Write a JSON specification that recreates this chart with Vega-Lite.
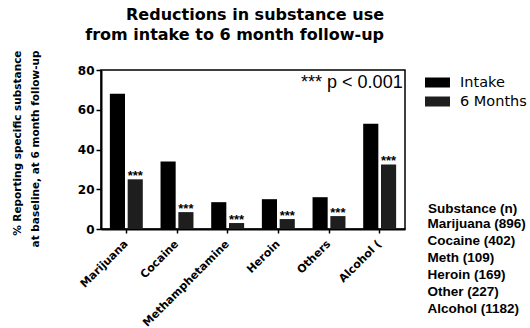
{
  "$schema": "https://vega.github.io/schema/vega-lite/v6.json",
  "autosize": {"type": "none"},
  "padding": {"left": 101, "top": 70, "right": 125, "bottom": 99},
  "width": 304,
  "height": 159,
  "background": "white",
  "title": {
    "text": ["Reductions in substance use", "from intake to 6 month follow-up"],
    "anchor": "end",
    "frame": "group",
    "align": "right",
    "dx": -21,
    "font": "DejaVu Sans",
    "fontSize": 16,
    "fontWeight": "bold",
    "lineHeight": 20,
    "offset": 7,
    "color": "black"
  },
  "datasets": {
    "bars": [
      {"substance": "Marijuana", "time": "Intake", "pct": 68},
      {"substance": "Marijuana", "time": "6 Months", "pct": 25},
      {"substance": "Cocaine", "time": "Intake", "pct": 34},
      {"substance": "Cocaine", "time": "6 Months", "pct": 8.5},
      {"substance": "Methamphetamine", "time": "Intake", "pct": 13.5},
      {"substance": "Methamphetamine", "time": "6 Months", "pct": 3},
      {"substance": "Heroin", "time": "Intake", "pct": 15},
      {"substance": "Heroin", "time": "6 Months", "pct": 5},
      {"substance": "Others", "time": "Intake", "pct": 16},
      {"substance": "Others", "time": "6 Months", "pct": 6.5},
      {"substance": "Alcohol (", "time": "Intake", "pct": 53},
      {"substance": "Alcohol (", "time": "6 Months", "pct": 32.5}
    ],
    "substances": [
      {"label": "Marijuana (896)"},
      {"label": "Cocaine (402)"},
      {"label": "Meth (109)"},
      {"label": "Heroin (169)"},
      {"label": "Other (227)"},
      {"label": "Alcohol (1182)"}
    ]
  },
  "layer": [
    {
      "data": {"name": "bars"},
      "mark": {"type": "bar"},
      "encoding": {
        "x": {
          "field": "substance",
          "type": "nominal",
          "sort": null,
          "title": null,
          "scale": {"paddingInner": 0.35, "paddingOuter": 0.175},
          "axis": {
            "labelAngle": -45,
            "labelAlign": "right",
            "labelBaseline": "middle",
            "labelFont": "DejaVu Sans",
            "labelFontWeight": "bold",
            "labelFontSize": 11,
            "labelColor": "black",
            "labelPadding": 9,
            "tickSize": 4,
            "tickColor": "black",
            "tickWidth": 1.5,
            "domainColor": "black",
            "domainWidth": 2,
            "grid": false
          }
        },
        "xOffset": {
          "field": "time",
          "type": "nominal",
          "scale": {"domain": ["Intake", "6 Months"], "paddingInner": 0.15}
        },
        "y": {
          "field": "pct",
          "type": "quantitative",
          "scale": {"domain": [0, 80], "nice": false},
          "axis": {
            "values": [0, 20, 40, 60, 80],
            "tickCount": 5,
            "labelOverlap": false,
            "title": ["% Reporting specific substance", "at baseline, at 6 month follow-up"]
          }
        },
        "color": {
          "field": "time",
          "type": "nominal",
          "scale": {"domain": ["Intake", "6 Months"], "range": ["#000000", "#1e1e1e"]},
          "legend": {
            "orient": "none",
            "legendX": 324,
            "legendY": 0,
            "title": null,
            "symbolType": "M-1,-0.4H1V0.4H-1Z",
            "symbolSize": 625,
            "symbolStrokeWidth": 0,
            "labelFont": "DejaVu Sans",
            "labelFontSize": 14.5,
            "labelColor": "black",
            "labelOffset": 10,
            "rowPadding": -7
          }
        }
      }
    },
    {
      "data": {"name": "bars"},
      "transform": [{"filter": "datum.time == '6 Months'"}],
      "mark": {"type": "text", "text": "***", "font": "Liberation Sans", "fontSize": 13, "fontWeight": "bold", "baseline": "alphabetic", "dy": 1, "fill": "#000000"},
      "encoding": {
        "x": {"field": "substance", "type": "nominal", "sort": null},
        "xOffset": {"field": "time", "type": "nominal", "scale": {"domain": ["Intake", "6 Months"], "paddingInner": 0.15}},
        "y": {
          "field": "pct",
          "type": "quantitative",
          "axis": {
            "values": [0, 20, 40, 60, 80],
            "tickCount": 5,
            "labelOverlap": false,
            "title": ["% Reporting specific substance", "at baseline, at 6 month follow-up"]
          }
        }
      }
    },
    {
      "data": {"values": [{"note": "*** p < 0.001"}]},
      "mark": {"type": "text", "font": "Liberation Sans", "fontSize": 18, "align": "right", "baseline": "middle", "dx": 23, "fill": "#000000"},
      "encoding": {
        "text": {"field": "note", "type": "nominal"},
        "x": {"datum": "Alcohol ("},
        "y": {
          "datum": 73.5,
          "axis": {
            "values": [0, 20, 40, 60, 80],
            "tickCount": 5,
            "labelOverlap": false,
            "title": ["% Reporting specific substance", "at baseline, at 6 month follow-up"]
          }
        }
      }
    },
    {
      "data": {"name": "substances"},
      "mark": {"type": "point", "opacity": 0, "size": 0},
      "encoding": {
        "shape": {
          "field": "label",
          "type": "nominal",
          "sort": null,
          "legend": {
            "orient": "none",
            "legendX": 327,
            "legendY": 132,
            "title": "Substance  (n)",
            "titleFont": "Liberation Sans",
            "titleFontSize": 13.5,
            "titleFontWeight": "bold",
            "titleColor": "black",
            "titlePadding": 2,
            "labelFont": "Liberation Sans",
            "labelFontSize": 13.5,
            "labelFontWeight": "bold",
            "labelColor": "black",
            "labelOffset": -14,
            "symbolSize": 0,
            "symbolOpacity": 0,
            "symbolStrokeWidth": 0,
            "rowPadding": 2
          }
        }
      }
    }
  ],
  "config": {
    "view": {"stroke": "black", "strokeWidth": 1.5},
    "axisY": {
      "labelFont": "DejaVu Sans",
      "labelFontWeight": "bold",
      "labelFontSize": 12,
      "labelColor": "black",
      "labelPadding": 2,
      "tickSize": 5,
      "tickColor": "black",
      "tickWidth": 1.5,
      "domainColor": "black",
      "domainWidth": 2,
      "grid": false,
      "titleFont": "DejaVu Sans",
      "titleFontWeight": "bold",
      "titleFontSize": 10.5,
      "titleColor": "black",
      "titleAngle": 270,
      "titleAlign": "right",
      "titleBaseline": "middle",
      "titleLineHeight": 18,
      "titleX": -84,
      "titleY": -20
    }
  }
}
